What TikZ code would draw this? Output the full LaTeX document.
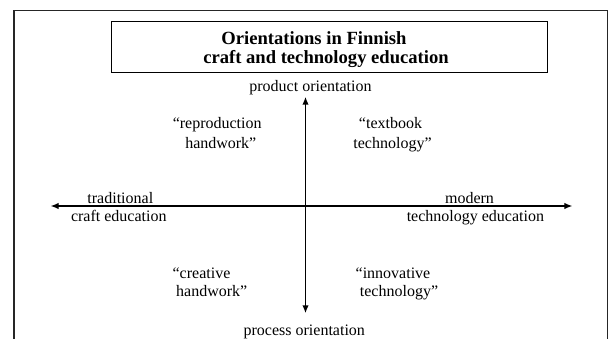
\documentclass[tikz,border=0pt]{standalone}
\usepackage{fontspec}
\setmainfont{Liberation Serif}
\usetikzlibrary{arrows.meta}
\begin{document}
\begin{tikzpicture}[x=1pt,y=-1pt,
  lbl/.style={font=\fontsize{16}{19}\selectfont, inner sep=0pt, anchor=base},
  ttl/.style={font=\fontsize{18.6}{22}\selectfont\bfseries, inner sep=0pt, anchor=base},
  frameline/.style={line width=1.3pt, draw=black!85},
  axisline/.style={{Latex[length=8pt,width=6.5pt]}-{Latex[length=8pt,width=6.5pt]}}]
\useasboundingbox (0,0) rectangle (609,339);

% open frame around the figure
\draw[frameline] (14,339) -- (14,10.3) -- (310,10.3);
\draw[line width=0.9pt, draw=black!85] (310,10.3) -- (607.3,10.3) -- (607.3,339);

% title box
\node[draw, line width=1.1pt, minimum width=436.4pt, minimum height=50.6pt,
      inner sep=0pt] (titlebox) at (329.5,47) {};
\node[ttl] (title1) at (314,45) {Orientations in Finnish};
\node[ttl] (title2) at (326,63.3) {craft and technology education};

% axes
\coordinate (ptop) at (305.5,96.7);
\coordinate (pbot) at (305.5,313.3);
\coordinate (left) at (50.7,206);
\coordinate (right) at (572.3,206);
\draw[axisline, line width=1.2pt] (left) -- (right);
\draw[axisline, line width=1.6pt] (pbot) -- (ptop);

% axis labels
\node[lbl] (prod) at (310.5,91.7) {product orientation};
\node[lbl] (proc) at (304.3,335) {process orientation};
\node[lbl] (trad1) at (120.3,203.3) {traditional};
\node[lbl] (trad2) at (118.8,221.7) {craft education};
\node[lbl] (mod1) at (469.5,203.3) {modern};
\node[lbl] (mod2) at (475.4,221.7) {technology education};

% quadrant labels
\node[lbl] (rep1) at (217.2,128.3) {“reproduction};
\node[lbl] (rep2) at (220.8,148.3) {handwork”};
\node[lbl] (tb1) at (390.5,128.3) {“textbook};
\node[lbl] (tb2) at (392.5,148.3) {technology”};
\node[lbl] (cr1) at (201.5,278.3) {“creative};
\node[lbl] (cr2) at (211.7,296.7) {handwork”};
\node[lbl] (in1) at (393,278.3) {“innovative};
\node[lbl] (in2) at (399,296.7) {technology”};
\end{tikzpicture}
\end{document}
